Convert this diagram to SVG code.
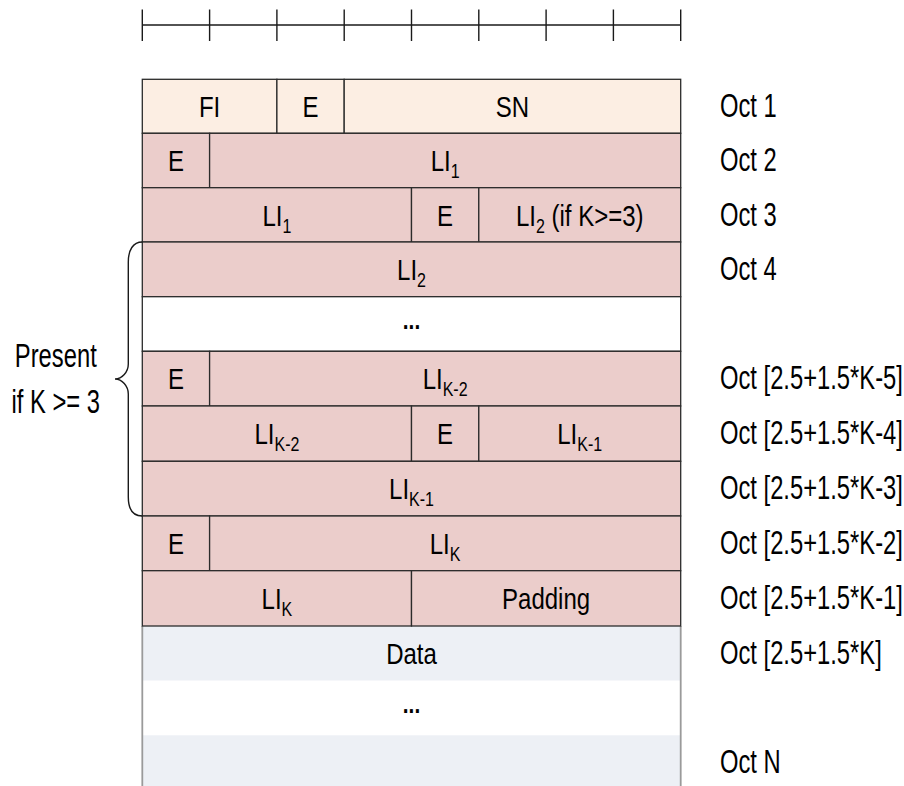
<svg xmlns="http://www.w3.org/2000/svg" width="904" height="786" viewBox="0 0 904 786">
  <style>
    .hdr { fill: #FCEEE3; }
    .li { fill: #EBCDCB; }
    .dat { fill: #EDF0F5; }
    .cell { stroke: #2b2b2b; stroke-width: 1.3; }
    .t { font-family: "Liberation Sans", Arial, sans-serif; font-size: 30px; text-anchor: middle; fill: #000; }
    .s { font-size: 20px; }
    .side { font-family: "Liberation Sans", Arial, sans-serif; font-size: 33px; fill: #000; }
    .mid { text-anchor: middle; }
    .dots { font-family: "Liberation Sans", Arial, sans-serif; font-size: 26px; font-weight: bold; text-anchor: middle; fill: #000; }
    .rule { stroke: #1a1a1a; stroke-width: 1.4; fill: none; }
    .edge { stroke: #9a9a9a; stroke-width: 1.8; fill: none; }
  </style>

  <!-- bit ruler -->
  <g id="ruler" class="rule">
    <line x1="142.3" y1="25" x2="680.7" y2="25"/>
    <line x1="142.3" y1="9.5" x2="142.3" y2="41"/>
    <line x1="209.6" y1="9.5" x2="209.6" y2="41"/>
    <line x1="276.9" y1="9.5" x2="276.9" y2="41"/>
    <line x1="344.2" y1="9.5" x2="344.2" y2="41"/>
    <line x1="411.5" y1="9.5" x2="411.5" y2="41"/>
    <line x1="478.8" y1="9.5" x2="478.8" y2="41"/>
    <line x1="546.1" y1="9.5" x2="546.1" y2="41"/>
    <line x1="613.4" y1="9.5" x2="613.4" y2="41"/>
    <line x1="680.7" y1="9.5" x2="680.7" y2="41"/>
  </g>

  <!-- data area (drawn first so header rows sit on top) -->
  <g id="data">
    <rect class="dat" x="142.3" y="626" width="538.4" height="54.7"/>
    <rect x="142.3" y="680.7" width="538.4" height="54.6" fill="#fff"/>
    <rect class="dat" x="142.3" y="735.3" width="538.4" height="52"/>
    <line class="edge" x1="142.3" y1="626" x2="142.3" y2="786"/>
    <line class="edge" x1="680.7" y1="626" x2="680.7" y2="786"/>
    <text class="t" transform="translate(411.5,664) scale(.8,1)">Data</text>
    <text class="dots" transform="translate(411.5,712.5) scale(.8,1)">...</text>
  </g>

  <!-- octet 1 -->
  <g id="oct1">
    <rect class="hdr cell" x="142.3" y="79.3" width="134.6" height="54"/>
    <rect class="hdr cell" x="276.9" y="79.3" width="67.3" height="54"/>
    <rect class="hdr cell" x="344.2" y="79.3" width="336.5" height="54"/>
    <text class="t" transform="translate(209.6,117.3) scale(.8,1)">FI</text>
    <text class="t" transform="translate(310.5,117.3) scale(.8,1)">E</text>
    <text class="t" transform="translate(512.4,117.3) scale(.8,1)">SN</text>
  </g>

  <!-- octet 2 -->
  <g id="oct2">
    <rect class="li cell" x="142.3" y="133.3" width="67.3" height="54.4"/>
    <rect class="li cell" x="209.6" y="133.3" width="471.1" height="54.4"/>
    <text class="t" transform="translate(175.9,171.3) scale(.8,1)">E</text>
    <text class="t" transform="translate(445.1,171.3) scale(.8,1)">LI<tspan class="s" dy="7">1</tspan></text>
  </g>

  <!-- octet 3 -->
  <g id="oct3">
    <rect class="li cell" x="142.3" y="187.7" width="269.2" height="54.3"/>
    <rect class="li cell" x="411.5" y="187.7" width="67.3" height="54.3"/>
    <rect class="li cell" x="478.8" y="187.7" width="201.9" height="54.3"/>
    <text class="t" transform="translate(276.9,225.7) scale(.8,1)">LI<tspan class="s" dy="7">1</tspan></text>
    <text class="t" transform="translate(445.1,225.7) scale(.8,1)">E</text>
    <text class="t" transform="translate(579.7,225.7) scale(.8,1)">LI<tspan class="s" dy="7">2</tspan><tspan dy="-7"> (if K&gt;=3)</tspan></text>
  </g>

  <!-- octet 4 -->
  <g id="oct4">
    <rect class="li cell" x="142.3" y="242" width="538.4" height="54.7"/>
    <text class="t" transform="translate(411.5,280) scale(.8,1)">LI<tspan class="s" dy="7">2</tspan></text>
  </g>

  <!-- elided octets -->
  <g id="gap">
    <rect class="cell" x="142.3" y="296.7" width="538.4" height="54.6" fill="#fff"/>
    <text class="dots" transform="translate(411.5,328.5) scale(.8,1)">...</text>
  </g>

  <!-- octet K-5 -->
  <g id="octK5">
    <rect class="li cell" x="142.3" y="351.3" width="67.3" height="54.7"/>
    <rect class="li cell" x="209.6" y="351.3" width="471.1" height="54.7"/>
    <text class="t" transform="translate(175.9,389.3) scale(.8,1)">E</text>
    <text class="t" transform="translate(445.1,389.3) scale(.8,1)">LI<tspan class="s" dy="7">K-2</tspan></text>
  </g>

  <!-- octet K-4 -->
  <g id="octK4">
    <rect class="li cell" x="142.3" y="406" width="269.2" height="55.3"/>
    <rect class="li cell" x="411.5" y="406" width="67.3" height="55.3"/>
    <rect class="li cell" x="478.8" y="406" width="201.9" height="55.3"/>
    <text class="t" transform="translate(276.9,444) scale(.8,1)">LI<tspan class="s" dy="7">K-2</tspan></text>
    <text class="t" transform="translate(445.1,444) scale(.8,1)">E</text>
    <text class="t" transform="translate(579.7,444) scale(.8,1)">LI<tspan class="s" dy="7">K-1</tspan></text>
  </g>

  <!-- octet K-3 -->
  <g id="octK3">
    <rect class="li cell" x="142.3" y="461.3" width="538.4" height="54.7"/>
    <text class="t" transform="translate(411.5,499.3) scale(.8,1)">LI<tspan class="s" dy="7">K-1</tspan></text>
  </g>

  <!-- octet K-2 -->
  <g id="octK2">
    <rect class="li cell" x="142.3" y="516" width="67.3" height="54.7"/>
    <rect class="li cell" x="209.6" y="516" width="471.1" height="54.7"/>
    <text class="t" transform="translate(175.9,554) scale(.8,1)">E</text>
    <text class="t" transform="translate(445.1,554) scale(.8,1)">LI<tspan class="s" dy="7">K</tspan></text>
  </g>

  <!-- octet K-1 -->
  <g id="octK1">
    <rect class="li cell" x="142.3" y="570.7" width="269.2" height="55.3"/>
    <rect class="li cell" x="411.5" y="570.7" width="269.2" height="55.3"/>
    <text class="t" transform="translate(276.9,608.7) scale(.8,1)">LI<tspan class="s" dy="7">K</tspan></text>
    <text class="t" transform="translate(546.1,608.7) scale(.8,1)">Padding</text>
  </g>

  <!-- brace grouping the optional octets -->
  <g id="connectors">
    <path class="rule" stroke-width="1.2" d="M142.3,242 C133,242 128.3,250 128.3,262 L128.3,364 C128.3,372 122,379 115,379 C122,379 128.3,386 128.3,394 L128.3,497 C128.3,509 133,516 142.3,516"/>
  </g>

  <g id="condition">
    <text class="side mid" transform="translate(55.8,366.7) scale(.72,1)">Present</text>
    <text class="side mid" transform="translate(55.8,413.3) scale(.72,1)">if K &gt;= 3</text>
  </g>

  <!-- octet numbering -->
  <g id="octets">
    <text class="side" transform="translate(720,117.3) scale(.72,1)">Oct 1</text>
    <text class="side" transform="translate(720,171.3) scale(.72,1)">Oct 2</text>
    <text class="side" transform="translate(720,225.7) scale(.72,1)">Oct 3</text>
    <text class="side" transform="translate(720,280) scale(.72,1)">Oct 4</text>
    <text class="side" transform="translate(720,389.3) scale(.72,1)">Oct [2.5+1.5*K-5]</text>
    <text class="side" transform="translate(720,444) scale(.72,1)">Oct [2.5+1.5*K-4]</text>
    <text class="side" transform="translate(720,499.3) scale(.72,1)">Oct [2.5+1.5*K-3]</text>
    <text class="side" transform="translate(720,554) scale(.72,1)">Oct [2.5+1.5*K-2]</text>
    <text class="side" transform="translate(720,608.7) scale(.72,1)">Oct [2.5+1.5*K-1]</text>
    <text class="side" transform="translate(720,664) scale(.72,1)">Oct [2.5+1.5*K]</text>
    <text class="side" transform="translate(720,773.3) scale(.72,1)">Oct N</text>
  </g>
</svg>
